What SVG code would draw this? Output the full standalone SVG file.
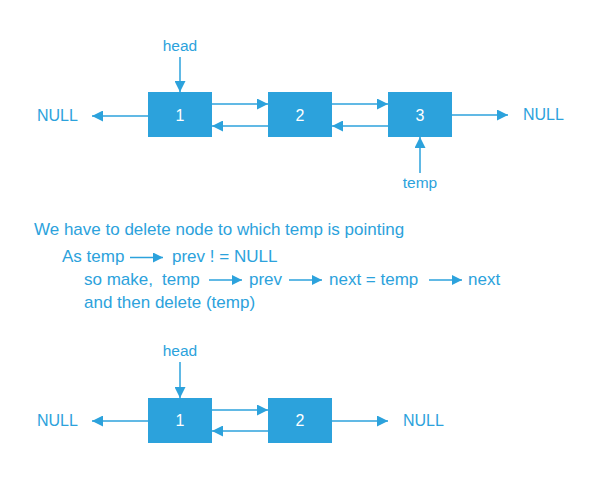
<svg xmlns="http://www.w3.org/2000/svg" width="595" height="480" viewBox="0 0 595 480">
<defs>
<style>
.box{fill:#2ca2dc}
.num{fill:#ffffff;font-family:"Liberation Sans",Arial,sans-serif;font-size:16px;text-anchor:middle}
.lbl{fill:#2ca2dc;font-family:"Liberation Sans",Arial,sans-serif;font-size:15.5px}
.null{fill:#2ca2dc;font-family:"Liberation Sans",Arial,sans-serif;font-size:16px}
.txt{fill:#2ca2dc;font-family:"Liberation Sans",Arial,sans-serif;font-size:17px}
.ln{stroke:#2ca2dc;stroke-width:1.5;fill:none;marker-end:url(#ah)}
.ln2{stroke:#2ca2dc;stroke-width:1.5;fill:none;marker-end:url(#ah2)}
</style>
<marker id="ah" markerUnits="userSpaceOnUse" markerWidth="11" markerHeight="11" refX="11" refY="5.5" orient="auto" viewBox="0 0 11 11">
<path d="M0,0 L11,5.5 L0,11 z" fill="#2ca2dc"/>
</marker>
<marker id="ah2" markerUnits="userSpaceOnUse" markerWidth="10" markerHeight="10" refX="10" refY="5" orient="auto" viewBox="0 0 10 10">
<path d="M0,0 L10,5 L0,10 z" fill="#2ca2dc"/>
</marker>
</defs>
<g id="connectors">
<line class="ln" x1="180" y1="57" x2="180" y2="92"/>
<line class="ln" x1="148" y1="116" x2="92" y2="116"/>
<line class="ln" x1="212" y1="104" x2="268" y2="104"/>
<line class="ln" x1="268" y1="126" x2="212" y2="126"/>
<line class="ln" x1="332" y1="104" x2="388" y2="104"/>
<line class="ln" x1="388" y1="126" x2="332" y2="126"/>
<line class="ln" x1="452" y1="115" x2="508" y2="115"/>
<line class="ln" x1="420" y1="173" x2="420" y2="137"/>
<line class="ln2" x1="130" y1="257.5" x2="163" y2="257.5"/>
<line class="ln2" x1="209" y1="280" x2="242" y2="280"/>
<line class="ln2" x1="289" y1="280" x2="322" y2="280"/>
<line class="ln2" x1="429" y1="280" x2="462" y2="280"/>
<line class="ln" x1="180" y1="362" x2="180" y2="398"/>
<line class="ln" x1="148" y1="421" x2="92" y2="421"/>
<line class="ln" x1="212" y1="410" x2="268" y2="410"/>
<line class="ln" x1="268" y1="431" x2="212" y2="431"/>
<line class="ln" x1="332" y1="421" x2="388" y2="421"/>
</g>
<g id="top-null-left"><text class="null" x="37" y="121">NULL</text></g>
<g id="top-head"><text class="lbl" x="180" y="51" text-anchor="middle">head</text></g>
<g id="top-node1"><rect class="box" x="148" y="92" width="64" height="45"/><text class="num" x="180" y="121">1</text></g>
<g id="top-node2"><rect class="box" x="268" y="92" width="64" height="45"/><text class="num" x="300" y="121">2</text></g>
<g id="top-node3"><rect class="box" x="388" y="92" width="64" height="45"/><text class="num" x="420" y="121">3</text></g>
<g id="top-null-right"><text class="null" x="523" y="120">NULL</text></g>
<g id="top-temp"><text class="lbl" x="420" y="188" text-anchor="middle">temp</text></g>
<g id="explanation">
<text class="txt" x="34" y="235">We have to delete node to which temp is pointing</text>
<text class="txt" x="62" y="262">As temp</text>
<text class="txt" x="172" y="262">prev ! = NULL</text>
<text class="txt" x="84" y="285">so make,</text>
<text class="txt" x="162" y="285">temp</text>
<text class="txt" x="249" y="285">prev</text>
<text class="txt" x="329" y="285">next = temp</text>
<text class="txt" x="468" y="285">next</text>
<text class="txt" x="84" y="308">and then delete (temp)</text>
</g>
<g id="bot-head"><text class="lbl" x="180" y="356" text-anchor="middle">head</text></g>
<g id="bot-null-left"><text class="null" x="37" y="426">NULL</text></g>
<g id="bot-node1"><rect class="box" x="148" y="398" width="64" height="45"/><text class="num" x="180" y="426">1</text></g>
<g id="bot-node2"><rect class="box" x="268" y="398" width="64" height="45"/><text class="num" x="300" y="426">2</text></g>
<g id="bot-null-right"><text class="null" x="403" y="426">NULL</text></g>
</svg>
